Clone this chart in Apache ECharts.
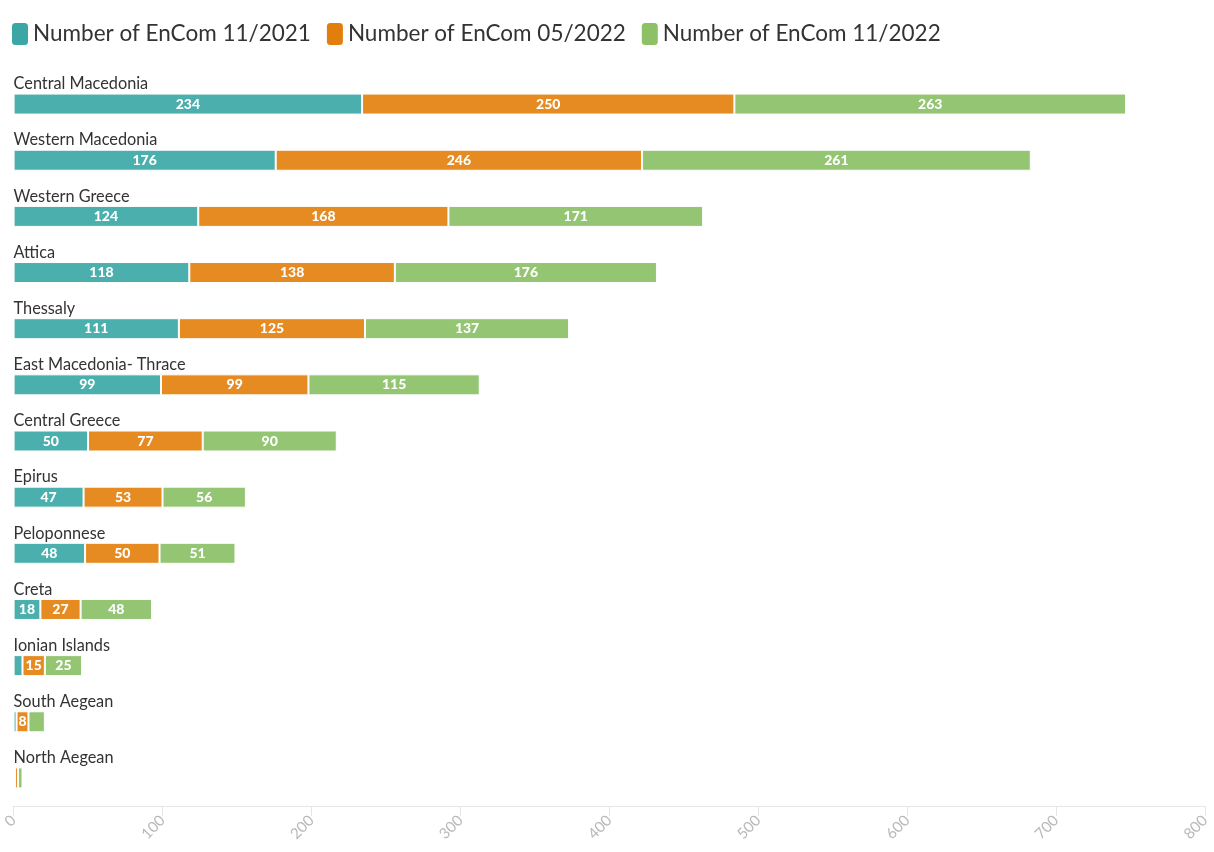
<!DOCTYPE html>
<html>
<head>
<meta charset="utf-8">
<script src="https://cdn.jsdelivr.net/npm/echarts@6/dist/echarts.min.js"></script>
<style>
  html, body { margin: 0; padding: 0; background: #fff; }
  #chart { width: 1214px; height: 852px; }
</style>
</head>
<body>
<div id="chart"></div>
<script>
// Energy communities per region, three survey dates
const regions = [
  'Central Macedonia', 'Western Macedonia', 'Western Greece', 'Attica', 'Thessaly',
  'East Macedonia- Thrace', 'Central Greece', 'Epirus', 'Peloponnese', 'Creta',
  'Ionian Islands', 'South Aegean', 'North Aegean'
];
const seriesNames = ['Number of EnCom 11/2021', 'Number of EnCom 05/2022', 'Number of EnCom 11/2022'];
const encom2021_11 = [234, 176, 124, 118, 111, 99, 50, 47, 48, 18, 6, 2, 1];
const encom2022_05 = [250, 246, 168, 138, 125, 99, 77, 53, 50, 27, 15, 8, 2];
const encom2022_11 = [263, 261, 171, 176, 137, 115, 90, 56, 51, 48, 25, 11, 3];
const xTicks = [0, 100, 200, 300, 400, 500, 600, 700, 800];

const barColors = ['#4BAFAD', '#E68A22', '#93C572'];
const legendColors = ['#3AA7A5', '#E27F0C', '#8CC165'];

const chart = echarts.init(document.getElementById('chart'));

// pixels per unit on the value axis, used to hide labels that do not fit in a segment
function pxPerUnit() {
  const w = chart.getWidth() - 13 - 9;
  return w / xTicks[xTicks.length - 1];
}

function makeSeries(name, data, idx) {
  return {
    name: name,
    type: 'bar',
    stack: 'total',
    barWidth: 21,
    data: data,
    itemStyle: { color: barColors[idx], borderColor: '#ffffff', borderWidth: 1 },
    label: {
      show: true,
      position: 'inside',
      color: '#ffffff',
      fontFamily: 'Lato',
      fontWeight: 900,
      fontSize: 14,
      formatter: function (p) {
        const txt = String(p.value);
        const need = txt.length * 8 + 1;
        return p.value * pxPerUnit() >= need ? txt : '';
      }
    },
    emphasis: { disabled: true }
  };
}

chart.setOption({
  animation: false,
  color: legendColors,
  legend: {
    left: 5,
    top: 16,
    itemWidth: 18,
    itemHeight: 24,
    itemGap: 14,
    icon: 'roundRect',
    textStyle: { fontFamily: 'Lato', fontSize: 22.5, color: '#333333', padding: [0, 0, 0, -1] },
    data: seriesNames.map((n, i) => ({ name: n, itemStyle: { color: legendColors[i] } }))
  },
  grid: { left: 13, right: 9, top: 76, bottom: 46, containLabel: false },
  xAxis: {
    type: 'value',
    min: 0,
    max: 800,
    interval: 100,
    axisLine: { show: true, lineStyle: { color: '#e6e6e6', width: 1 } },
    axisTick: { show: true, length: 10, lineStyle: { color: '#e6e6e6' } },
    splitLine: { show: false },
    axisLabel: {
      rotate: 45,
      color: '#b8b8b8',
      fontFamily: 'Lato',
      fontSize: 15,
      margin: 12,
      formatter: v => (xTicks.indexOf(v) >= 0 ? String(v) : '')
    }
  },
  yAxis: {
    type: 'category',
    inverse: true,
    data: regions,
    axisLine: { show: false },
    axisTick: { show: false },
    axisLabel: {
      inside: true,
      align: 'left',
      verticalAlign: 'bottom',
      margin: 0,
      padding: [0, 0, 12, 0],
      color: '#333333',
      fontFamily: 'Lato',
      fontSize: 16.3
    }
  },
  series: [
    makeSeries(seriesNames[0], encom2021_11, 0),
    makeSeries(seriesNames[1], encom2022_05, 1),
    makeSeries(seriesNames[2], encom2022_11, 2)
  ]
});
</script>
</body>
</html>
